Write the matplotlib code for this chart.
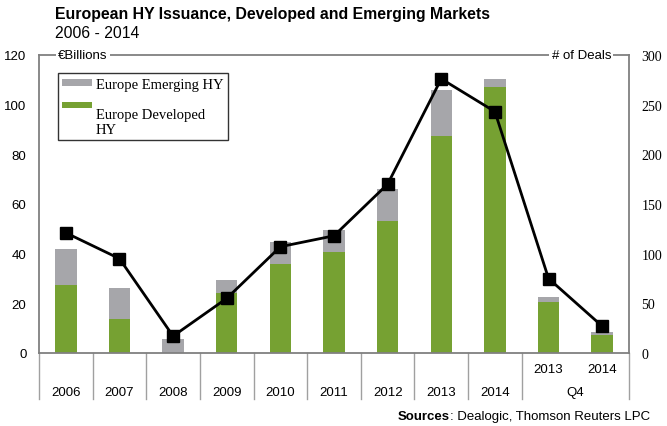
import matplotlib
matplotlib.use('Agg')
import matplotlib.pyplot as plt
import matplotlib.transforms as mtransforms
from matplotlib.legend_handler import HandlerBase
from matplotlib.patches import Rectangle, Patch

# ---- data ----
categories = ['2006', '2007', '2008', '2009', '2010', '2011', '2012', '2013', '2014', '2013', '2014']
group_label = 'Q4'
developed = [27.5, 13.5, 0.0, 24.0, 36.0, 40.5, 53.0, 87.5, 107.0, 20.7, 7.4]
emerging = [14.5, 12.5, 5.8, 5.3, 8.5, 9.2, 13.2, 18.3, 3.3, 1.9, 1.1]
deals = [121, 95, 17, 55, 107, 118, 170, 276, 243, 75, 27]
left_ticks = [0, 20, 40, 60, 80, 100, 120]
right_ticks = [0, 50, 100, 150, 200, 250, 300]

GREEN = '#76A132'
GRAY = '#A6A6AA'
SPINE = '#808080'
SANS = 'Liberation Sans'
SERIF = 'Liberation Serif'

W, H = 667, 427
fig = plt.figure(figsize=(W / 100, H / 100), dpi=100)
ax_l, ax_r, ax_t, ax_b = 39, 629, 56, 354
ax = fig.add_axes([ax_l / W, 1 - ax_b / H, (ax_r - ax_l) / W, (ax_b - ax_t) / H])
x = list(range(len(categories)))

ax.bar(x, developed, width=0.4, color=GREEN, zorder=2)
ax.bar(x, emerging, width=0.4, bottom=developed, color=GRAY, zorder=2)
ax.set_xlim(-0.5, len(categories) - 0.5)
ax.set_ylim(0, 120)
ax.set_yticks(left_ticks)
ax.set_xticks([])
ax.tick_params(axis='y', length=0, pad=9, labelsize=9.5)
for lab in ax.get_yticklabels():
    lab.set_fontfamily(SANS)
for s in ax.spines.values():
    s.set_color(SPINE)
    s.set_linewidth(1.3)

ax2 = ax.twinx()
ax2.set_ylim(0, 300)
ax2.set_yticks(right_ticks)
ax2.tick_params(axis='y', length=0, pad=9, labelsize=10)
for lab in ax2.get_yticklabels():
    lab.set_fontfamily(SERIF)
for s in ax2.spines.values():
    s.set_visible(False)
ax2.plot(x, deals, color='black', lw=2.0, marker='s', ms=8, zorder=5)

# axis headers interrupting the top line
ax2.text((58 - ax_l) / (ax_r - ax_l), 1.0, '€Billions', transform=ax2.transAxes,
         ha='left', va='center', fontsize=9.5, family=SANS,
         bbox=dict(fc='white', ec='none', pad=1.5), zorder=6, clip_on=False)
ax2.text((611 - ax_l) / (ax_r - ax_l), 1.0, '# of Deals', transform=ax2.transAxes,
         ha='right', va='center', fontsize=9.5, family=SANS,
         bbox=dict(fc='white', ec='none', pad=1.5), zorder=6, clip_on=False)

# category separators and labels below the axis
trans = mtransforms.blended_transform_factory(ax.transData, ax.transAxes)
depth = (400 - ax_b) / (ax_b - ax_t)
seps = [i - 0.5 for i in range(10)] + [len(categories) - 0.5]
for xb in seps:
    ax.plot([xb, xb], [0, -depth], transform=trans, clip_on=False,
            color='#A0A0A0', lw=1.0)
y_main = -(393 - ax_b) / (ax_b - ax_t)
y_sub = -(370 - ax_b) / (ax_b - ax_t)
for i, c in enumerate(categories):
    if i < 9:
        ax.text(i, y_main, c, transform=trans, ha='center', va='center',
                fontsize=9.5, family=SANS)
    else:
        ax.text(i, y_sub, c, transform=trans, ha='center', va='center',
                fontsize=9.5, family=SANS)
ax.text(9.5, y_main, group_label, transform=trans, ha='center', va='center',
        fontsize=9.5, family=SANS)


# legend with thin bar handles
class BarHandler(HandlerBase):
    def __init__(self, dy=0.0):
        super().__init__()
        self.dy = dy

    def create_artists(self, legend, orig_handle, xdescent, ydescent, width,
                       height, fontsize, trans):
        h = 0.42 * fontsize
        y = -ydescent + (height - h) / 2 + self.dy * fontsize
        r = Rectangle((-xdescent, y), width, h,
                      facecolor=orig_handle.get_facecolor(), edgecolor='none',
                      transform=trans)
        return [r]


h_em = Patch(facecolor=GRAY)
h_dev = Patch(facecolor=GREEN)
leg = ax2.legend([h_em, h_dev], ['Europe Emerging HY', 'Europe Developed\nHY'],
                 handler_map={h_em: BarHandler(0.0), h_dev: BarHandler(1.15)},
                 loc='upper left',
                 bbox_to_anchor=((58 - ax_l) / (ax_r - ax_l), (ax_b - 74) / (ax_b - ax_t)),
                 borderaxespad=0, prop={'family': SERIF, 'size': 10.5},
                 fancybox=False, frameon=True, edgecolor='black',
                 handlelength=2.0, handletextpad=0.3, labelspacing=1.2,
                 borderpad=0.3)
leg.get_frame().set_linewidth(1.0)
leg.set_zorder(10)

# titles
fig.text(55 / W, 1 - 15 / H, 'European HY Issuance, Developed and Emerging Markets',
         ha='left', va='center', fontsize=11.4, fontweight='bold', family=SANS)
fig.text(55 / W, 1 - 33 / H, '2006 - 2014', ha='left', va='center',
         fontsize=11.3, family=SANS)

# source
fig.canvas.draw()
r = fig.canvas.get_renderer()
t_src = fig.text(650 / W, 1 - 417 / H, ': Dealogic, Thomson Reuters LPC',
                 ha='right', va='center', fontsize=9.5, family=SANS)
bb = t_src.get_window_extent(renderer=r)
fig.text(bb.x0 / W, 1 - 417 / H, 'Sources', ha='right', va='center',
         fontsize=9.5, fontweight='bold', family=SANS)

fig.savefig('out.png', dpi=100)
